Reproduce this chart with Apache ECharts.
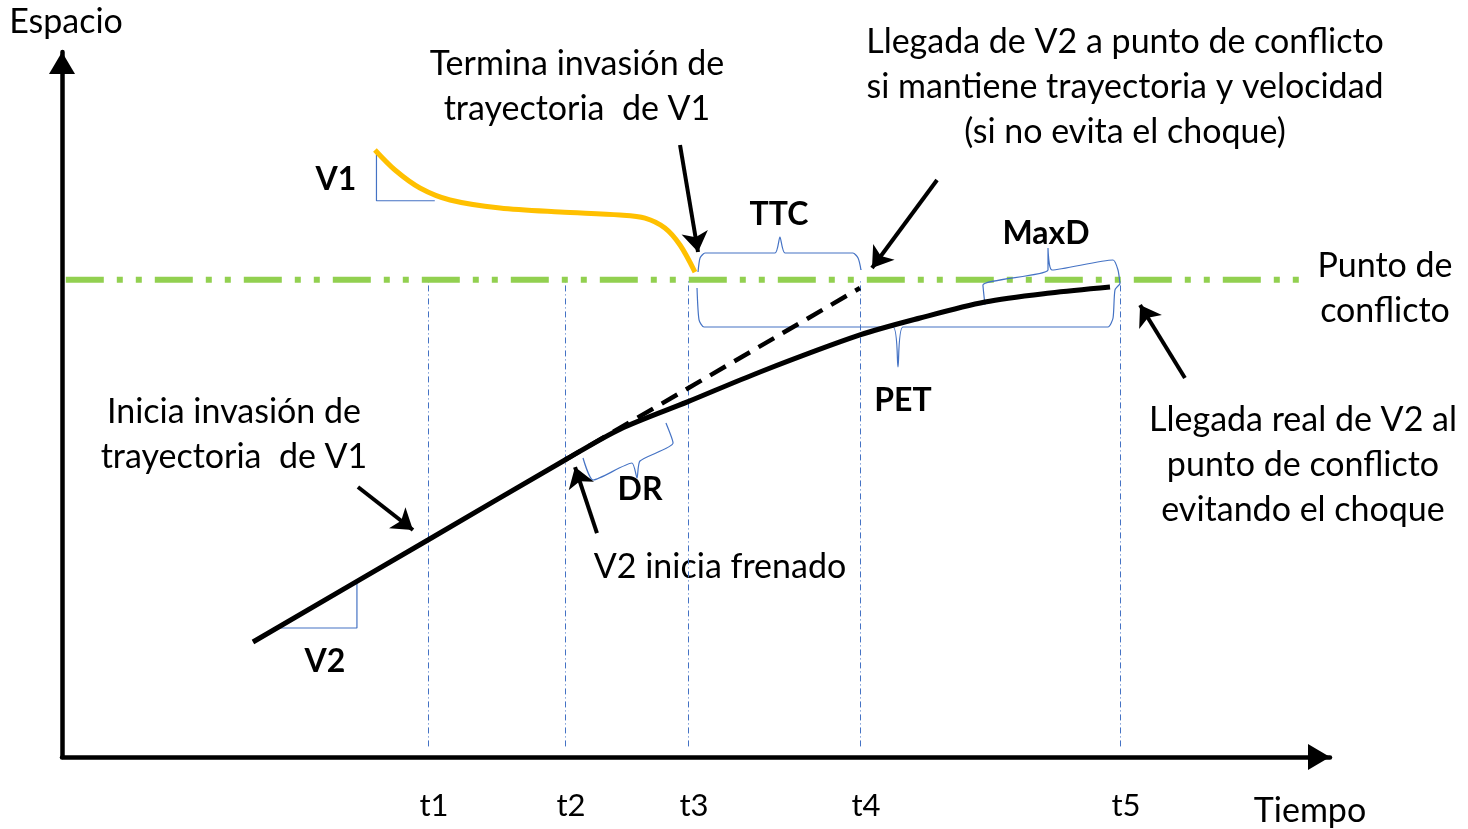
<!DOCTYPE html>
<html>
<head>
<meta charset="utf-8">
<script src="https://cdn.jsdelivr.net/npm/echarts@6/dist/echarts.min.js"></script>
<style>
  html, body { margin: 0; padding: 0; background: #fff; }
  #chart { width: 1468px; height: 829px; }
</style>
</head>
<body>
<div id="chart"></div>
<script>
// instantes de tiempo (eje x, 0..100)
const tNames = ["t1", "t2", "t3", "t4", "t5"];
const tValues = [28.86, 39.67, 49.37, 62.93, 83.44];

// altura del punto de conflicto (eje y, 0..100)
const conflictY = 67.7;
const conflictLine = [[0.3, conflictY], [97.6, conflictY]];

// trayectoria real de V2 (frena en t2)
const v2Path = [
  [15.06, 16.31], [28.86, 30.78], [39.67, 42.13], [44.01, 46.5],
  [49.37, 50.4], [55.05, 54.61], [62.93, 59.86], [67.67, 62.27],
  [72.79, 64.54], [77.92, 65.82], [82.65, 66.67]
];
// trayectoria de V2 si mantiene velocidad
const v2Projected = [[39.67, 42.13], [62.93, 66.52]];

// trayectoria de V1
const v1Path = [
  [24.68, 86.1], [26.26, 83.26], [28.23, 80.71], [30.6, 79.01],
  [34.54, 77.87], [39.27, 77.3], [44.0, 76.88], [45.98, 76.45],
  [47.55, 75.04], [48.74, 72.62], [49.92, 68.79]
];

// triángulos de pendiente
const v1Slope = [[24.8, 85.5], [24.8, 78.9], [29.4, 78.9]];
const v2Slope = [[16.64, 18.3], [23.26, 18.3], [23.26, 25.11]];

// llaves
const ttcBrace = [
  [50.16, 68.79], [50.32, 70.78], [50.71, 71.49], [56.23, 71.49], [56.62, 73.76],
  [57.02, 71.49], [62.38, 71.49], [62.78, 70.78], [63.01, 69.08]
];
const petBrace = [
  [50.08, 66.52], [50.24, 61.99], [50.63, 60.99], [65.54, 60.99], [65.93, 55.32],
  [66.32, 60.99], [82.49, 60.99], [82.89, 62.27], [83.04, 66.24], [83.44, 67.09]
];
const maxdBrace = [
  [72.79, 64.11], [72.63, 66.95], [77.76, 69.08], [77.76, 72.2], [78.08, 69.08],
  [82.89, 70.5], [83.28, 69.08], [83.44, 67.09]
];
const drBrace = [
  [41.09, 42.41], [41.88, 39.29], [44.95, 41.7], [45.35, 39.57], [45.58, 41.99],
  [48.19, 44.54], [47.63, 47.38]
];

// flechas [desde, hasta]
const arrows = [
  [[48.74, 86.81], [50.16, 71.63]],
  [[69.01, 81.84], [63.88, 69.36]],
  [[88.56, 53.76], [85.02, 64.11]],
  [[23.34, 38.3], [27.68, 32.2]],
  [[42.19, 31.77], [40.46, 41.13]]
];

const FONT = "Lato, 'Open Sans', sans-serif";
const blue = "#4472c4";

function txt(text, x, y, bold) {
  return {
    type: "text",
    x: x, y: y,
    style: {
      text: text,
      font: bold ? "bold 32px " + FONT : "34px " + FONT,
      fill: "#000",
      align: "center",
      verticalAlign: "middle",
      lineHeight: 45
    }
  };
}

function brace(data) {
  return {
    type: "line", data: data, showSymbol: false, smooth: 0.2,
    lineStyle: { color: blue, width: 1.2 }, z: 3, silent: true
  };
}

const chart = echarts.init(document.getElementById("chart"));
chart.setOption({
  animation: false,
  grid: { left: 62, right: 138, top: 52, bottom: 72 },
  xAxis: {
    type: "value", min: 0, max: 100,
    splitLine: { show: false },
    axisTick: { show: false },
    axisLine: {
      show: true, onZero: false,
      lineStyle: { color: "#000", width: 4.5 },
      symbol: ["none", "triangle"], symbolSize: [26, 22], symbolOffset: [0, -11]
    },
    axisLabel: {
      customValues: tValues,
      formatter: v => tNames[tValues.indexOf(v)] || "",
      fontFamily: FONT, fontSize: 31, color: "#000", margin: 33,
      padding: [0, 0, 0, 12]
    }
  },
  yAxis: {
    type: "value", min: 0, max: 100,
    splitLine: { show: false },
    axisTick: { show: false },
    axisLabel: { show: false },
    axisLine: {
      show: true, onZero: false,
      lineStyle: { color: "#000", width: 4.5 },
      symbol: ["none", "triangle"], symbolSize: [26, 22], symbolOffset: [0, -11]
    }
  },
  series: [
    {
      type: "lines", coordinateSystem: "cartesian2d", silent: true, z: 1,
      lineStyle: { color: blue, width: 1, type: [6, 3, 1, 3], opacity: 1 },
      data: tValues.map(t => ({ coords: [[t, 1.5], [t, conflictY]] }))
    },
    {
      type: "line", data: conflictLine, showSymbol: false, z: 2,
      lineStyle: { color: "#92d050", width: 6, type: [38, 13, 6, 13, 6, 13] }
    },
    {
      type: "line", data: v2Projected, showSymbol: false, z: 4,
      lineStyle: { color: "#000", width: 4.5, type: [18, 10] }
    },
    {
      type: "line", data: v2Path, showSymbol: false, smooth: 0.3, z: 5,
      lineStyle: { color: "#000", width: 5 }
    },
    {
      type: "line", data: v1Path, showSymbol: false, smooth: 0.3, z: 5,
      lineStyle: { color: "#ffc000", width: 5 }
    },
    {
      type: "line", data: v1Slope, showSymbol: false, z: 3,
      lineStyle: { color: blue, width: 1.2 }
    },
    {
      type: "line", data: v2Slope, showSymbol: false, z: 3,
      lineStyle: { color: blue, width: 1.2 }
    },
    brace(ttcBrace),
    brace(petBrace),
    brace(maxdBrace),
    brace(drBrace),
    {
      type: "lines", coordinateSystem: "cartesian2d", silent: true, z: 6,
      symbol: ["none", "arrow"], symbolSize: 20,
      lineStyle: { color: "#000", width: 4, opacity: 1 },
      data: arrows.map(a => ({ coords: a }))
    }
  ],
  graphic: [
    txt("Espacio", 66, 22),
    txt("Termina invasión de\ntrayectoria  de V1", 577, 87),
    txt("Llegada de V2 a punto de conflicto\nsi mantiene trayectoria y velocidad\n(si no evita el choque)", 1125, 87),
    txt("V1", 336, 180, true),
    txt("TTC", 779, 215, true),
    txt("MaxD", 1046, 234, true),
    txt("Punto de\nconflicto", 1385, 289),
    txt("PET", 903, 401, true),
    txt("Inicia invasión de\ntrayectoria  de V1", 234, 435),
    txt("DR", 640, 490, true),
    txt("V2 inicia frenado", 720, 567),
    txt("Llegada real de V2 al\npunto de conflicto\nevitando el choque", 1303, 465),
    txt("V2", 325, 662, true),
    txt("Tiempo", 1310, 811)
  ]
});
</script>
</body>
</html>
